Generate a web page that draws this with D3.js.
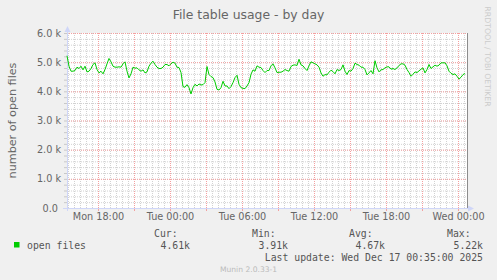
<!DOCTYPE html>
<html>
<head>
<meta charset="utf-8">
<script src="https://cdn.jsdelivr.net/npm/d3@7"></script>
<style>
html, body { margin: 0; padding: 0; background: #f0f0f0; }
svg { display: block; }
text { font-family: "DejaVu Sans", sans-serif; fill: #666; }
.mono { font-family: "DejaVu Sans Mono", monospace; fill: #555; }
</style>
</head>
<body>
<div id="chart"></div>
<script>
const title = "File table usage - by day";
const yLabel = "number of open files";
const seriesName = "open files";
const watermark = "RRDTOOL / TOBI OETIKER";
const version = "Munin 2.0.33-1";
const lastUpdate = "Last update: Wed Dec 17 00:35:00 2025";

// time window of the graph, samples every 10 minutes from startTime
const startTime = new Date(2025, 11, 15, 15, 25);
const endTime = new Date(2025, 11, 17, 0, 45);
const stepMinutes = 10;

const openFiles = [
    5220, 4862, 4690, 4690, 4713, 4828, 4782, 4862, 4736, 4862,
    4667, 4690, 4782, 4920, 4977, 4748, 4632, 4690, 4600, 4748,
    4943, 5127, 5012, 4862, 4828, 4828, 4840, 4828, 4943, 5012,
    4690, 4460, 4600, 4828, 4794, 4805, 4736, 4690, 4736, 4632,
    4667, 4862, 4966, 5034, 4920, 4828, 4782, 4782, 4828, 4920,
    4920, 4874, 4943, 5000, 4966, 4828, 4816, 4644, 4161, 4138,
    4230, 4126, 3910, 4126, 4241, 4184, 4253, 4218, 4230, 4299,
    4851, 4575, 4506, 4471, 4322, 4069, 4046, 4126, 4345, 4184,
    4184, 4092, 4161, 4299, 4471, 4552, 4241, 4126, 4103, 4092,
    4184, 4299, 4586, 4736, 4690, 4874, 4828, 4816, 4713, 4644,
    4713, 4713, 4874, 4943, 4805, 4644, 4655, 4655, 4690, 4748,
    4713, 4690, 4851, 4897, 4908, 4885, 5100, 4908, 4874, 4782,
    4713, 4874, 5012, 4977, 4943, 4908, 4828, 4632, 4517, 4575,
    4563, 4655, 4724, 4678, 4600, 4748, 4713, 4748, 4908, 4690,
    4575, 4713, 4690, 4782, 4966, 4920, 4897, 4828, 4828, 4748,
    4563, 4632, 4713, 4600, 5050, 4805, 4667, 4736, 4748, 4805,
    4840, 4840, 4759, 4782, 4748, 4805, 4885, 4943, 4943, 4897,
    4748, 4644, 4517, 4586, 4667, 4644, 4701, 4759, 4805, 4632,
    4748, 4920, 4782, 4840, 4897, 4862, 4897, 4977, 4977, 4977,
    4874, 4690, 4621, 4575, 4600, 4517, 4420, 4483, 4575, 4610
];

const yTickValues = [0, 1000, 2000, 3000, 4000, 5000, 6000];
const yTickLabels = ["0.0 ", "1.0 k", "2.0 k", "3.0 k", "4.0 k", "5.0 k", "6.0 k"];
const yMinorStep = 200;

const statNames = ["Cur:", "Min:", "Avg:", "Max:"];
const statValues = ["4.61k", "3.91k", "4.67k", "5.22k"];

const width = 497, height = 280;
const plot = { left: 67, top: 33, width: 400, height: 175 };
const bottom = plot.top + plot.height;
const right = plot.left + plot.width;

const minorColor = "#d2d2d2";
const majorColor = "#f4a0a0";
const axisColor = "#cfd6f8";
const lineColor = "#00cc00";

const x = d3.scaleTime().domain([startTime, endTime]).range([plot.left, right]);
const y = d3.scaleLinear().domain([0, 6000]).range([bottom, plot.top]);

const svg = d3.select("#chart").append("svg")
    .attr("width", width)
    .attr("height", height);

svg.append("rect")
    .attr("width", width)
    .attr("height", height)
    .attr("fill", "#f0f0f0");

svg.append("rect")
    .attr("x", plot.left)
    .attr("y", plot.top)
    .attr("width", plot.width)
    .attr("height", plot.height)
    .attr("fill", "#ffffff");

// grid: minor first, major (red) over it
function styleGrid(g, color, dash) {
    g.select(".domain").remove();
    g.selectAll("line")
        .attr("stroke", color)
        .attr("stroke-dasharray", dash);
}

svg.append("g")
    .attr("transform", `translate(0,${bottom})`)
    .call(d3.axisBottom(x).ticks(d3.timeMinute.every(30)).tickSize(-plot.height).tickFormat(""))
    .call(g => styleGrid(g, minorColor, "1,1"));

svg.append("g")
    .attr("transform", `translate(${plot.left},0)`)
    .call(d3.axisLeft(y).tickValues(d3.range(0, 6001, yMinorStep)).tickSize(-plot.width).tickFormat(""))
    .call(g => styleGrid(g, minorColor, "1,1"));

svg.append("g")
    .attr("transform", `translate(0,${bottom})`)
    .call(d3.axisBottom(x).ticks(d3.timeHour.every(3)).tickSize(-plot.height).tickFormat(""))
    .call(g => styleGrid(g, majorColor, "1,1"));

svg.append("g")
    .attr("transform", `translate(${plot.left},0)`)
    .call(d3.axisLeft(y).tickValues(yTickValues).tickSize(-plot.width).tickFormat(""))
    .call(g => styleGrid(g, majorColor, "1,1"));

// small tick stubs outside the plot
svg.append("g")
    .attr("transform", `translate(${plot.left},0)`)
    .call(d3.axisLeft(y).tickValues(d3.range(0, 6001, yMinorStep)).tickSize(3).tickFormat(""))
    .call(g => { g.select(".domain").remove(); g.selectAll("line").attr("stroke", "#c8c8c8"); });

svg.append("g")
    .attr("transform", `translate(0,${bottom})`)
    .call(d3.axisBottom(x).ticks(d3.timeHour.every(3)).tickSize(3).tickFormat(""))
    .call(g => { g.select(".domain").remove(); g.selectAll("line").attr("stroke", majorColor); });

// right frame line
svg.append("line")
    .attr("x1", right + 0.5).attr("x2", right + 0.5)
    .attr("y1", plot.top).attr("y2", bottom)
    .attr("stroke", "#8c8c8c");

// axes with arrows
svg.append("line")
    .attr("x1", plot.left + 0.5).attr("x2", plot.left + 0.5)
    .attr("y1", bottom + 3).attr("y2", plot.top - 4)
    .attr("stroke", axisColor);
svg.append("path")
    .attr("d", `M${plot.left - 2.5},${plot.top - 1}L${plot.left + 0.5},${plot.top - 7}L${plot.left + 3.5},${plot.top - 1}Z`)
    .attr("fill", axisColor);

svg.append("line")
    .attr("x1", plot.left - 4).attr("x2", right + 4)
    .attr("y1", bottom + 0.5).attr("y2", bottom + 0.5)
    .attr("stroke", axisColor);
svg.append("path")
    .attr("d", `M${right + 1},${bottom - 2.5}L${right + 7},${bottom + 0.5}L${right + 1},${bottom + 3.5}Z`)
    .attr("fill", axisColor);

// data line
const line = d3.line()
    .x((d, i) => x(d3.timeMinute.offset(startTime, i * stepMinutes)))
    .y(d => y(d));

svg.append("path")
    .datum(openFiles)
    .attr("d", line)
    .attr("fill", "none")
    .attr("stroke", lineColor)
    .attr("stroke-width", 1);

// axis labels
svg.append("g")
    .attr("transform", `translate(0,${bottom})`)
    .call(d3.axisBottom(x).ticks(d3.timeHour.every(6)).tickFormat(d3.timeFormat("%a %H:%M")).tickSize(0).tickPadding(5))
    .call(g => {
        g.select(".domain").remove();
        g.selectAll("text").style("font-size", "9.7px").attr("fill", "#666");
    });

svg.append("g")
    .attr("transform", `translate(${plot.left},0)`)
    .call(d3.axisLeft(y).tickValues(yTickValues).tickFormat((d, i) => yTickLabels[i]).tickSize(0).tickPadding(6))
    .call(g => {
        g.select(".domain").remove();
        g.selectAll("text")
            .style("font-size", "9.7px")
            .style("white-space", "pre")
            .attr("fill", "#666");
    });

svg.append("text")
    .attr("x", width / 2)
    .attr("y", 18.5)
    .attr("text-anchor", "middle")
    .style("font-size", "12.4px")
    .text(title);

svg.append("text")
    .attr("transform", `translate(16,${plot.top + plot.height / 2})rotate(-90)`)
    .attr("text-anchor", "middle")
    .style("font-size", "11.2px")
    .text(yLabel);

svg.append("text")
    .attr("transform", `translate(485,56.5)rotate(90)`)
    .attr("text-anchor", "middle")
    .style("font-size", "7.8px")
    .style("fill", "#cccccc")
    .text(watermark);

// legend
svg.append("rect")
    .attr("x", 14)
    .attr("y", 242)
    .attr("width", 5.5)
    .attr("height", 5.5)
    .attr("fill", lineColor);

svg.append("text")
    .attr("class", "mono")
    .attr("x", 27)
    .attr("y", 248.5)
    .style("font-size", "9.8px")
    .text(seriesName);

const statX = [154, 252, 349, 447];
const statRight = [190, 288, 385, 483];

svg.append("g")
    .selectAll("text")
    .data(statNames)
    .join("text")
    .attr("class", "mono")
    .attr("x", (d, i) => statX[i])
    .attr("y", 236.5)
    .style("font-size", "9.8px")
    .text(d => d);

svg.append("g")
    .selectAll("text")
    .data(statValues)
    .join("text")
    .attr("class", "mono")
    .attr("x", (d, i) => statRight[i])
    .attr("y", 248.5)
    .attr("text-anchor", "end")
    .style("font-size", "9.8px")
    .text(d => d);

svg.append("text")
    .attr("class", "mono")
    .attr("x", 483)
    .attr("y", 260.8)
    .attr("text-anchor", "end")
    .style("font-size", "9.8px")
    .text(lastUpdate);

svg.append("text")
    .attr("x", 248.5)
    .attr("y", 272)
    .attr("text-anchor", "middle")
    .style("font-size", "7.6px")
    .style("fill", "#bbbbbb")
    .text(version);
</script>
</body>
</html>
